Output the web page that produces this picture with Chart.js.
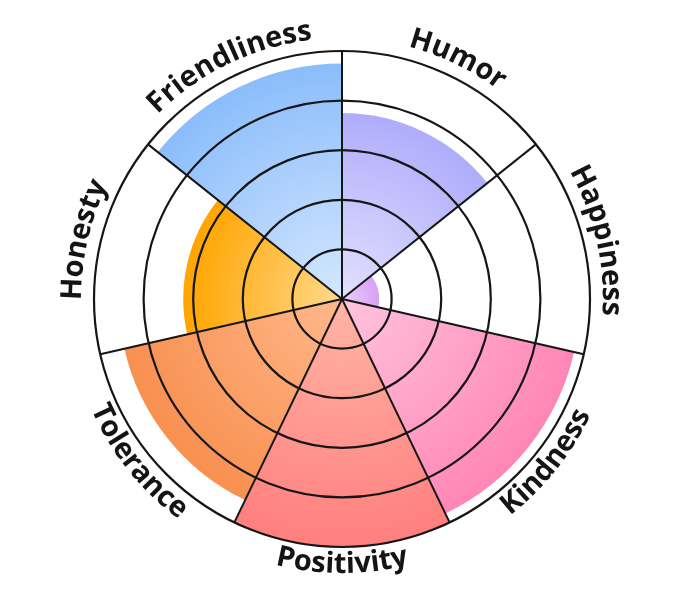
<!DOCTYPE html>
<html>
<head>
<meta charset="utf-8">
<script src="https://cdn.jsdelivr.net/npm/chart.js@4"></script>
<style>
body { margin: 0; background: #fff; }
#wrap { width: 680px; height: 597px; position: relative; }
</style>
</head>
<body>
<div id="wrap"><canvas id="wheel"></canvas></div>
<script>
var labels = ["Friendliness", "Humor", "Happiness", "Kindness", "Positivity", "Tolerance", "Honesty"];
var values = [9.5, 7.5, 1.5, 9.6, 10, 9.0, 6.4];
var tickValues = [0, 2, 4, 6, 8, 10];
var outerColors = ["#8bbdfb", "#afadfb", "#d7a0f5", "#ff86b6", "#ff7f7f", "#f89050", "#ffa500"];
var innerColors = ["#d5e7fe", "#e3e0fe", "#edd0fa", "#ffc4dd", "#ffb5a5", "#ffb88c", "#ffd98c"];

// radial gradient per slice, light in the middle, strong at the rim
function sliceFill(ctx) {
    var i = ctx.dataIndex;
    var scale = ctx.chart.scales.r;
    if (i === undefined || !scale || !scale.drawingArea) return outerColors[i || 0];
    var r = scale.getDistanceFromCenterForValue(values[i]);
    var g = ctx.chart.ctx.createRadialGradient(scale.xCenter, scale.yCenter, 0, scale.xCenter, scale.yCenter, r);
    g.addColorStop(0, innerColors[i]);
    g.addColorStop(1, outerColors[i]);
    return g;
}

// labels written along the outer circle
var curvedLabels = {
    id: 'curvedLabels',
    afterDraw: function (chart) {
        var scale = chart.scales.r;
        var ctx = chart.ctx;
        var step = 2 * Math.PI / labels.length;
        var cx = scale.xCenter, cy = scale.yCenter;
        ctx.save();
        ctx.font = '700 29px "Open Sans"';
        ctx.fillStyle = '#141414';
        ctx.textAlign = 'center';
        ctx.textBaseline = 'alphabetic';
        labels.forEach(function (text, i) {
            var mid = (scale.getIndexAngle(i) + step / 2) % (2 * Math.PI);
            var bottom = mid > Math.PI / 2 && mid < 3 * Math.PI / 2;
            var R = bottom ? scale.drawingArea + 26 : scale.drawingArea + 13;
            var total = ctx.measureText(text).width / R;
            for (var k = 0; k < text.length; k++) {
                var off = ctx.measureText(text.slice(0, k)).width;
                var w = ctx.measureText(text[k]).width;
                var a = bottom ? mid + total / 2 - (off + w / 2) / R : mid - total / 2 + (off + w / 2) / R;
                ctx.save();
                ctx.translate(cx + R * Math.sin(a), cy - R * Math.cos(a));
                ctx.rotate(bottom ? a + Math.PI : a);
                ctx.fillText(text[k], 0, 0);
                ctx.restore();
            }
        });
        ctx.restore();
    }
};

new Chart(document.getElementById('wheel'), {
    type: 'polarArea',
    data: {
        labels: labels,
        datasets: [{
            data: values,
            backgroundColor: sliceFill,
            borderWidth: 0
        }]
    },
    options: {
        responsive: true,
        maintainAspectRatio: false,
        animation: false,
        layout: { padding: { left: 94, right: 90, top: 51, bottom: 50 } },
        plugins: {
            legend: { display: false },
            tooltip: { enabled: false }
        },
        scales: {
            r: {
                min: 0,
                max: 10,
                startAngle: -360 / 7,
                afterBuildTicks: function (s) {
                    s.ticks = tickValues.map(function (v) { return { value: v }; });
                },
                ticks: { display: false },
                grid: { circular: true, color: '#161616', lineWidth: 2.2, z: 1 },
                angleLines: { display: true, color: '#161616', lineWidth: 2 },
                pointLabels: { display: false }
            }
        }
    },
    plugins: [curvedLabels]
});
</script>
</body>
</html>
